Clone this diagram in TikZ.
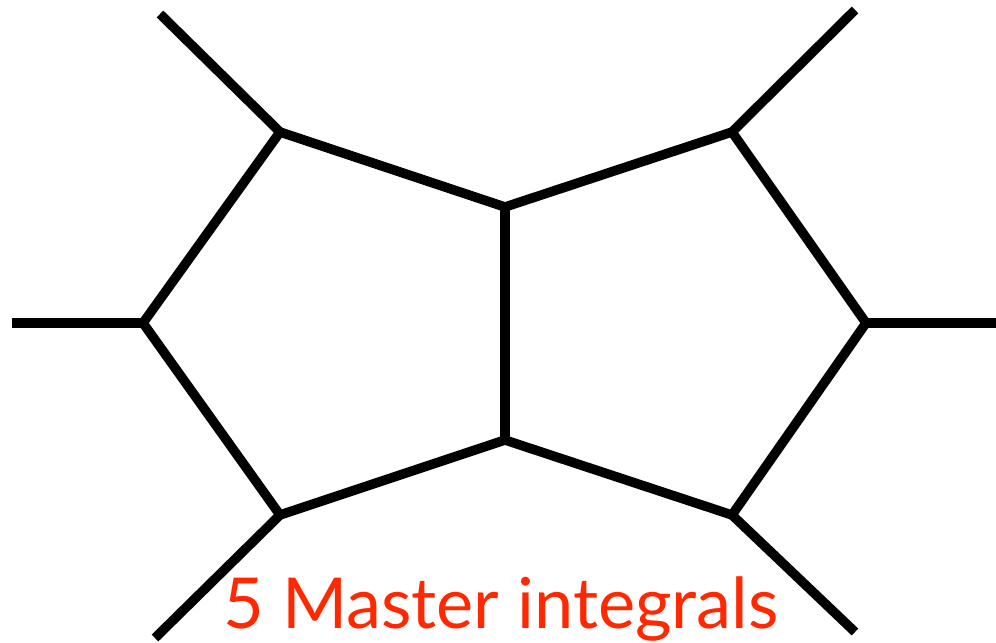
\documentclass[tikz,border=0pt]{standalone}
\usepackage{fontspec}
\setmainfont{Lato}
\usepackage{xcolor}
\definecolor{labelred}{RGB}{255,40,0}
\usetikzlibrary{positioning}

\begin{document}
\begin{tikzpicture}[
  prop/.style={line width=0.19cm, black},
  caption/.style={font=\fontsize{40}{46}\selectfont, text=labelred, inner sep=0pt}
]
  \useasboundingbox (0,0) rectangle (19.92,12.84);
  % internal vertices
  \coordinate (tl) at (5.6,10.2);
  \coordinate (tm) at (10.1,8.7);
  \coordinate (tr) at (14.64,10.2);
  \coordinate (l) at (2.86,6.38);
  \coordinate (r) at (17.32,6.38);
  \coordinate (bl) at (5.6,2.54);
  \coordinate (bm) at (10.1,4.04);
  \coordinate (br) at (14.64,2.54);
  % external ends
  \coordinate (etl) at (3.2,12.56);
  \coordinate (etr) at (17.1,12.64);
  \coordinate (el) at (0.24,6.38);
  \coordinate (er) at (19.92,6.38);
  \coordinate (ebl) at (3.1,0.08);
  \coordinate (ebr) at (17.1,0.2);
  \draw[prop, line join=miter] (tm) -- (tl) -- (l) -- (bl) -- (bm) -- (br) -- (r) -- (tr) -- cycle;
  \draw[prop] (tm) -- (bm);
  \draw[prop] (tl) -- (etl); \draw[prop] (tr) -- (etr);
  \draw[prop] (l) -- (el); \draw[prop] (r) -- (er);
  \draw[prop] (bl) -- (ebl); \draw[prop] (br) -- (ebr);
  \node[caption, anchor=base] (lbl) at (10.02,0.28) {5 Master integrals};
\end{tikzpicture}
\end{document}
